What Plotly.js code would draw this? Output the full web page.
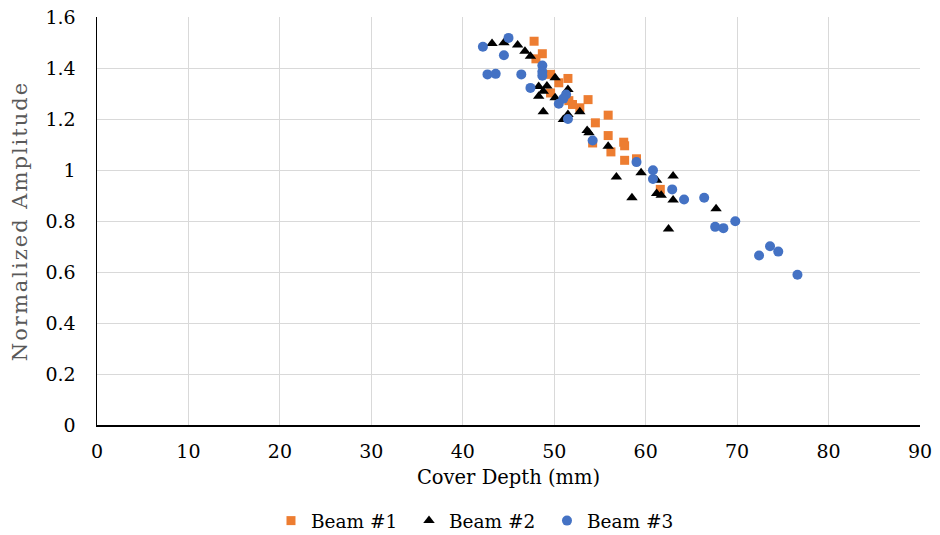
<!DOCTYPE html>
<html><head><meta charset="utf-8">
<script src="https://cdn.plot.ly/plotly-3.0.1.min.js"></script>
<style>html,body{margin:0;padding:0;background:#fff;}#chart{width:940px;height:535px;}
#chart .ytitle{letter-spacing:2px;}</style>
</head><body><div id="chart"></div>
<script>
var beam1X = [47.8,48.7,48.0,49.6,51.5,50.5,49.6,51.6,53.7,52.8,52.0,55.9,54.5,55.9,57.6,57.7,54.2,56.2,57.7,59.0,61.6];
var beam1Y = [1.505,1.456,1.436,1.375,1.359,1.342,1.302,1.272,1.276,1.244,1.257,1.215,1.185,1.135,1.109,1.095,1.106,1.071,1.038,1.044,0.924];

var beam2X = [43.2,44.5,46.0,46.8,47.4,50.1,48.3,49.2,48.8,48.3,50.1,51.5,48.8,51.5,51.0,52.8,53.6,53.8,55.9,56.8,59.5,61.2,63.0,58.5,61.2,61.7,63.0,62.5,67.7];
var beam2Y = [1.496,1.499,1.490,1.466,1.446,1.362,1.327,1.329,1.309,1.289,1.283,1.316,1.228,1.218,1.198,1.228,1.155,1.146,1.093,0.973,0.989,0.960,0.976,0.891,0.908,0.901,0.882,0.769,0.848];

var beam3X = [42.2,45.0,44.5,42.7,43.6,46.4,48.7,48.7,48.7,47.4,51.3,51.0,50.5,51.5,54.2,59.0,60.8,60.8,62.9,64.2,66.4,67.6,68.5,69.8,72.4,73.6,74.5,76.6];
var beam3Y = [1.483,1.518,1.450,1.375,1.377,1.375,1.410,1.385,1.370,1.322,1.296,1.280,1.260,1.200,1.116,1.031,0.999,0.965,0.924,0.884,0.891,0.777,0.772,0.799,0.665,0.701,0.680,0.589];

var yTickVals = [0,0.2,0.4,0.6,0.8,1,1.2,1.4,1.6];
var yTickText = ["0","0.2","0.4","0.6","0.8","1","1.2","1.4","1.6"];
var xTickVals = [0,10,20,30,40,50,60,70,80,90];

var font = "DejaVu Serif";
var traces = [
  {x: beam1X, y: beam1Y, name: "Beam #1", type: "scatter", mode: "markers",
   marker: {symbol: "square", color: "#ED7D31", size: 9}},
  {x: beam2X, y: beam2Y, name: "Beam #2", type: "scatter", mode: "markers",
   marker: {symbol: "triangle-up", color: "#000000", size: 10}},
  {x: beam3X, y: beam3Y, name: "Beam #3", type: "scatter", mode: "markers",
   marker: {symbol: "circle", color: "#4472C4", size: 10}}
];
var layout = {
  width: 940, height: 535,
  margin: {l: 97, r: 20, t: 17, b: 110, autoexpand: false},
  paper_bgcolor: "#ffffff", plot_bgcolor: "#ffffff",
  font: {family: font, size: 19, color: "#000000"},
  showlegend: true,
  legend: {orientation: "h", xref: "container", yref: "container", x: 0.5085, xanchor: "center", y: 0.026, yanchor: "middle",
           font: {family: font, size: 18.5, color: "#000000"}, itemwidth: 30, entrywidth: 93, entrywidthmode: "pixels"},
  xaxis: {range: [0, 90], tickvals: xTickVals, showgrid: true, gridcolor: "#d9d9d9", gridwidth: 1,
          zeroline: false, showline: true, linecolor: "#000000", linewidth: 1.5, ticks: "",
          ticklabelstandoff: 9, automargin: false,
          tickfont: {family: font, size: 19, color: "#000000"},
          title: {text: "Cover Depth (mm)", font: {family: font, size: 19.5, color: "#000000"}, standoff: 9}},
  yaxis: {range: [0, 1.6], tickvals: yTickVals, ticktext: yTickText, showgrid: true, gridcolor: "#d9d9d9", gridwidth: 1,
          zeroline: false, showline: true, linecolor: "#000000", linewidth: 1.5, ticks: "",
          ticklabelstandoff: 16, automargin: false,
          tickfont: {family: font, size: 19, color: "#000000"},
          title: {text: "Normalized Amplitude", font: {family: font, size: 21, color: "#595959"}, standoff: 12}}
};
Plotly.newPlot("chart", traces, layout, {displayModeBar: false, staticPlot: true});
</script></body></html>
